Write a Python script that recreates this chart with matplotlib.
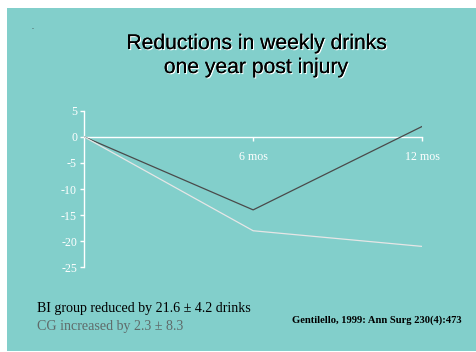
import matplotlib
matplotlib.use("Agg")
import matplotlib.pyplot as plt
import matplotlib.patheffects as pe
from matplotlib.patches import Rectangle

# Change in weekly drinks at each follow-up point
months = [0, 6, 12]
month_labels = ["6 mos", "12 mos"]
month_ticks = [6, 12]
bi_group = [0, -14, 2]
control_group = [0, -18, -21]
y_ticks = [5, 0, -5, -10, -15, -20, -25]

W, H = 477, 352
BG = "#82cfcb"

fig = plt.figure(figsize=(W / 100, H / 100), dpi=100)
fig.patch.set_facecolor("white")
fig.add_artist(Rectangle((7 / W, 1 / H), 1 - 7 / W, 1 - 9 / H,
                         transform=fig.transFigure, facecolor=BG,
                         edgecolor="none", zorder=0))

left, right = 84 / W, 422.3 / W
top, bottom = 1 - 110.7 / H, 1 - 267.3 / H
ax = fig.add_axes([left, bottom, right - left, top - bottom])
ax.set_facecolor("none")

ax.plot(months, bi_group, color="#4a4a4a", lw=0.9, zorder=3)
ax.plot(months, control_group, color="#e6e6e6", lw=0.9, zorder=3)

ax.set_xlim(0, 12)
ax.set_ylim(-25, 5)
for s in ["top", "right"]:
    ax.spines[s].set_visible(False)
ax.spines["left"].set_color("white")
ax.spines["left"].set_linewidth(1.0)
ax.spines["bottom"].set_position(("data", 0))
ax.spines["bottom"].set_color("white")
ax.spines["bottom"].set_linewidth(1.0)
ax.spines["bottom"].set_zorder(2)

serif = "Liberation Serif"
ax.set_yticks(y_ticks)
ax.set_yticklabels([str(v) for v in y_ticks], family=serif, fontsize=8.6, color="white")
ax.set_xticks(month_ticks)
ax.set_xticklabels(month_labels, family=serif, fontsize=8.6, color="white")
ax.tick_params(axis="y", colors="white", length=3, width=1, pad=2, direction="out")
ax.tick_params(axis="x", colors="white", length=3, width=1, pad=7, direction="out")

# Title with a soft white drop shadow
shadow = [pe.withSimplePatchShadow(offset=(0.8, -0.8), shadow_rgbFace="white", alpha=1.0),
          pe.Normal()]
title_kw = dict(family="Liberation Sans", fontsize=15.2, color="black",
                ha="center", va="baseline", path_effects=shadow)
fig.text(256.5 / W, 1 - 49 / H, "Reductions in weekly drinks", **title_kw)
fig.text(256 / W, 1 - 73 / H, "one year post injury", **title_kw)

fig.text(33 / W, 1 - 28.5 / H, "-", fontsize=4, color="#333333", ha="center", va="center")

fig.text(37 / W, 1 - 311.7 / H, "BI group reduced by 21.6 \u00b1 4.2 drinks",
         family=serif, fontsize=10.1, color="black", ha="left", va="baseline")
fig.text(37 / W, 1 - 330 / H, "CG increased by 2.3 \u00b1 8.3",
         family=serif, fontsize=10.1, color="#5f6b6a", ha="left", va="baseline")
fig.text(291.7 / W, 1 - 322.7 / H, "Gentilello, 1999: Ann Surg 230(4):473",
         family=serif, fontsize=7.6, fontweight="bold", color="black",
         ha="left", va="baseline")

fig.savefig("out.png", dpi=100, facecolor=fig.get_facecolor())
